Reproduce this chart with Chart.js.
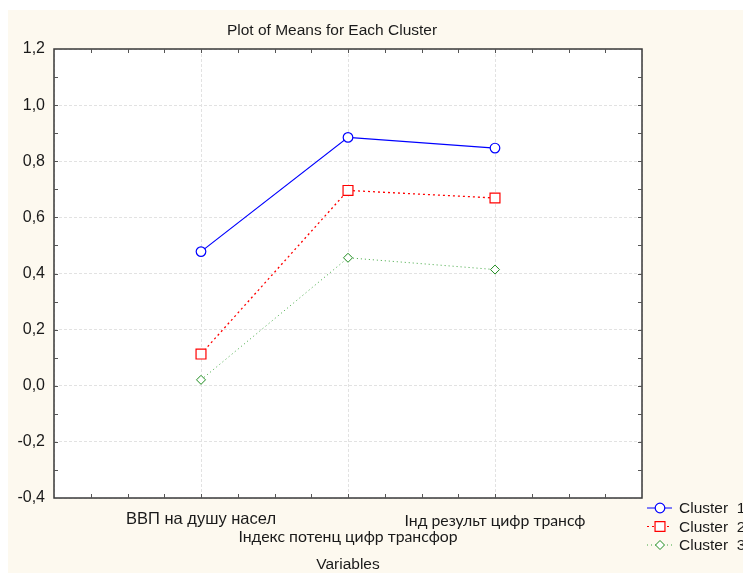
<!DOCTYPE html>
<html>
<head>
<meta charset="utf-8">
<script src="https://cdn.jsdelivr.net/npm/chart.js@4.4.1/dist/chart.umd.min.js"></script>
<style>
  body { margin: 0; background: #fff; }
  #wrap { width: 743px; height: 573px; }
</style>
</head>
<body>
<div id="wrap"><canvas id="meansChart" width="743" height="573"></canvas></div>
<script>
// chart data
const variables = ['ВВП на душу насел', 'Індекс потенц цифр трансфор', 'Інд результ цифр трансф'];
const clusterNames = ['Cluster  1', 'Cluster  2', 'Cluster  3'];
const cluster1 = [0.478, 0.885, 0.847];
const cluster2 = [0.113, 0.696, 0.669];
const cluster3 = [0.021, 0.456, 0.414];
const yTicks = [-0.4, -0.2, 0.0, 0.2, 0.4, 0.6, 0.8, 1.0, 1.2];

const cream = '#fdf9ef';
const arial = '"Liberation Sans", Arial, sans-serif';

function toPoints(vals) {
    return vals.map((v, i) => ({ x: i + 1, y: v }));
}

// background, frame, minor ticks, title, x labels, legend
const decorPlugin = {
    id: 'decor',
    beforeDraw(chart) {
        const c = chart.ctx;
        const a = chart.chartArea;
        c.save();
        c.fillStyle = '#ffffff';
        c.fillRect(0, 0, chart.width, chart.height);
        c.fillStyle = cream;
        c.fillRect(8, 10, chart.width - 8, chart.height - 10);
        c.fillStyle = '#ffffff';
        c.fillRect(a.left, a.top, a.right - a.left, a.bottom - a.top);
        c.restore();
    },
    afterDatasetsDraw(chart) {
        const c = chart.ctx;
        const a = chart.chartArea;
        const xs = chart.scales.x;
        const ys = chart.scales.y;
        c.save();
        // frame
        c.strokeStyle = '#3a3a3a';
        c.lineWidth = 1.5;
        c.strokeRect(a.left, a.top, a.right - a.left, a.bottom - a.top);
        // minor ticks, pointing inward
        c.lineWidth = 1;
        c.strokeStyle = '#555';
        c.beginPath();
        for (let v = 0.25; v < 4; v += 0.25) {
            const px = Math.round(xs.getPixelForValue(v)) + 0.5;
            c.moveTo(px, a.top); c.lineTo(px, a.top + 4);
            c.moveTo(px, a.bottom); c.lineTo(px, a.bottom - 4);
        }
        for (let v = -0.3; v < 1.2; v += 0.1) {
            const py = Math.round(ys.getPixelForValue(v)) + 0.5;
            c.moveTo(a.left, py); c.lineTo(a.left + 4, py);
            c.moveTo(a.right, py); c.lineTo(a.right - 4, py);
        }
        c.stroke();

        // title
        c.fillStyle = '#1a1a1a';
        c.textAlign = 'center';
        c.textBaseline = 'middle';
        c.font = '15.5px ' + arial;
        c.fillText('Plot of Means for Each Cluster', 332, 31);

        // x labels (staggered)
        const rowsY = [519, 537, 521];
        variables.forEach((name, i) => {
            c.font = i === 0 ? '16.5px ' + arial : '15.8px Lato, "Open Sans", sans-serif';
            c.fillText(name, xs.getPixelForValue(i + 1), rowsY[i]);
        });
        c.font = '15.5px ' + arial;
        c.fillText('Variables', (a.left + a.right) / 2, 565);

        // legend
        c.textAlign = 'left';
        chart.data.datasets.forEach((ds, i) => {
            const ly = 508 + i * 18.5;
            c.strokeStyle = ds.borderColor;
            c.lineWidth = 1;
            c.setLineDash(ds.borderDash || []);
            c.beginPath();
            c.moveTo(647, ly); c.lineTo(672, ly);
            c.stroke();
            c.setLineDash([]);
            c.lineWidth = ds.pointBorderWidth;
            c.strokeStyle = ds.pointBorderColor;
            c.fillStyle = '#ffffff';
            Chart.helpers.drawPoint(c, {
                pointStyle: ds.pointStyle,
                radius: ds.pointRadius,
                rotation: 0,
                borderWidth: ds.pointBorderWidth
            }, 660, ly);
            c.fillStyle = '#1a1a1a';
            c.font = '15.5px ' + arial;
            c.fillText(ds.label, 679, ly + 1);
        });
        c.restore();
    }
};

const ctx = document.getElementById('meansChart').getContext('2d');

const chart = new Chart(ctx, {
    type: 'line',
    data: {
        datasets: [{
            label: clusterNames[0],
            data: toPoints(cluster1),
            borderColor: '#0000ff',
            borderWidth: 1.2,
            pointStyle: 'circle',
            pointRadius: 4.8,
            pointBorderColor: '#0000ff',
            pointBackgroundColor: '#ffffff',
            pointBorderWidth: 1.2
        }, {
            label: clusterNames[1],
            data: toPoints(cluster2),
            borderColor: '#ff0000',
            borderWidth: 1.3,
            borderDash: [2, 3],
            pointStyle: 'rect',
            pointRadius: 7,
            pointBorderColor: '#ff0000',
            pointBackgroundColor: '#ffffff',
            pointBorderWidth: 1.2
        }, {
            label: clusterNames[2],
            data: toPoints(cluster3),
            borderColor: '#40a840',
            borderWidth: 1,
            borderDash: [1, 3],
            pointStyle: 'rectRot',
            pointRadius: 4.5,
            pointBorderColor: '#1e8c1e',
            pointBackgroundColor: '#ffffff',
            pointBorderWidth: 1
        }]
    },
    options: {
        responsive: false,
        animation: false,
        layout: { padding: { left: 0, top: 49, right: 101, bottom: 75 } },
        plugins: {
            legend: { display: false },
            title: { display: false },
            tooltip: { enabled: false }
        },
        scales: {
            x: {
                type: 'linear',
                min: 0,
                max: 4,
                ticks: { display: false, stepSize: 1 },
                grid: { color: '#e2e2e2', lineWidth: 1, drawTicks: false },
                border: { display: false, dash: [3, 2] },
                afterFit: s => { s.height = 0; }
            },
            y: {
                min: -0.4,
                max: 1.2,
                afterBuildTicks: s => { s.ticks = yTicks.map(v => ({ value: v })); },
                ticks: {
                    color: '#1a1a1a',
                    padding: 9,
                    font: { family: arial, size: 16 },
                    callback: v => v.toFixed(1).replace('.', ',')
                },
                grid: { color: '#e2e2e2', lineWidth: 1, drawTicks: false },
                border: { display: false, dash: [3, 2] },
                afterFit: s => { s.width = 54; }
            }
        }
    },
    plugins: [decorPlugin]
});
</script>
</body>
</html>
